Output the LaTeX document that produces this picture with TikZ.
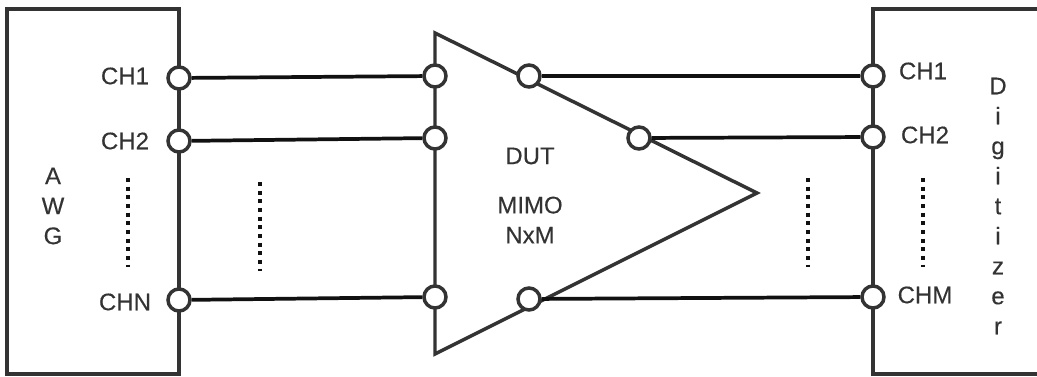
\documentclass[tikz,border=0pt]{standalone}
\usepackage{fontspec}
\setmainfont{Liberation Sans}
\usepackage{xcolor}
\definecolor{Ink}{HTML}{333333}
\definecolor{Wire}{HTML}{111111}
\tikzset{
  port/.style={circle,draw=Ink,fill=white,line width=2.6pt,minimum size=16.5pt,inner sep=0pt},
  wire/.style={Wire,line width=2.8pt},
  body/.style={Ink,line width=2.6pt,line join=miter},
  dots/.style={Wire,line width=3pt,dash pattern=on 3pt off 3.5pt},
  lbl/.style={text=Ink,font=\fontsize{18}{22.5}\selectfont\addfontfeature{FakeBold=0.25},inner sep=0pt,align=center}
}

\begin{document}
\begin{tikzpicture}[x=0.75pt,y=-0.75pt]
    \useasboundingbox (0,0) rectangle (1037,377);

    % instruments and the DUT
    \draw[body] (7,9) rectangle (179,374);
    \draw[body] (1037,9) -- (873,9) -- (873,374) -- (1037,374);
    \draw[body] (435,33) -- (757,193) -- (435,354) -- cycle;

    % ports
    \foreach \n/\x/\y in {awgA/179/78,awgB/179/141,awgN/179/300,
                          inA/435/76,inB/435/138,inN/435/297,
                          outA/529/76,outB/639/138,outM/529/299,
                          digA/873/76,digB/873/137,digM/873/297}
      \node[port] (\n) at (\x,\y) {};

    % channels
    \foreach \a/\b in {awgA/inA,awgB/inB,awgN/inN,outA/digA,outB/digB,outM/digM}
      \draw[wire] (\a)--(\b);

    % skipped channels
    \foreach \x/\y in {128/178,260/182,808/178,923/178}
      \draw[dots] (\x,\y)--(\x,\y+89);

    % labels
    \node[lbl] (awgname) at (53,206) {A\\W\\G};
    \node[lbl] (awgchA) at (125,76) {CH1};
    \node[lbl] (awgchB) at (125,141) {CH2};
    \node[lbl] (awgchN) at (125,302) {CHN};
    \node[lbl] (dutname) at (530,156) {DUT};
    \node[lbl] (dutkind) at (530,220) {MIMO\\NxM};
    \node[lbl] (digchA) at (923,71) {CH1};
    \node[lbl] (digchB) at (925,135) {CH2};
    \node[lbl] (digchM) at (925,295) {CHM};
    \node[lbl] (digname) at (998,206) {D\\i\\g\\i\\t\\i\\z\\e\\r};
  \end{tikzpicture}
\end{document}
